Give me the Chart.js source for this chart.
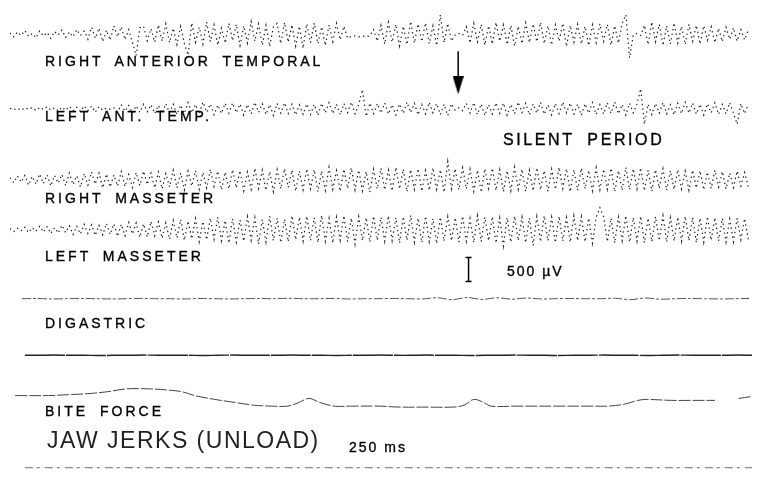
<!DOCTYPE html>
<html><head><meta charset="utf-8">
<script src="https://cdn.jsdelivr.net/npm/chart.js@4"></script>
<style>
html,body{margin:0;padding:0;background:#fff;}
#wrap{position:relative;width:762px;height:490px;overflow:hidden;background:#fff;}
#c{position:absolute;left:0;top:0;}
.lbl{position:absolute;font-family:"Liberation Sans",Arial,sans-serif;font-size:14px;letter-spacing:3px;word-spacing:5px;color:#000;white-space:nowrap;line-height:14px;-webkit-text-stroke:0.35px #000;}
.big{font-size:23px;line-height:23px;letter-spacing:1.5px;word-spacing:0;color:#222;-webkit-text-stroke:0;}
</style></head><body>
<div id="wrap"><canvas id="c" width="762" height="490"></canvas>
<div class="lbl" style="left:45px;top:54px">RIGHT ANTERIOR TEMPORAL</div>
<div class="lbl" style="left:45px;top:109px">LEFT ANT. TEMP.</div>
<div class="lbl" style="left:503px;top:132px;font-size:16px;line-height:16px;letter-spacing:2.6px;word-spacing:6px">SILENT PERIOD</div>
<div class="lbl" style="left:45px;top:191px">RIGHT MASSETER</div>
<div class="lbl" style="left:45px;top:249px">LEFT MASSETER</div>
<div class="lbl" style="left:507px;top:264px;letter-spacing:2px;word-spacing:0">500 µV</div>
<div class="lbl" style="left:45px;top:316px">DIGASTRIC</div>
<div class="lbl" style="left:45px;top:404px">BITE FORCE</div>
<div class="lbl big" style="left:47px;top:429px">JAW JERKS (UNLOAD)</div>
<div class="lbl" style="left:349px;top:440px;letter-spacing:2px;word-spacing:0">250 ms</div>
</div>
<script>
// ---- time base ----
const EMG_DT_MS = 5;          // EMG sample spacing (ms)
const SLOW_DT_MS = 20;        // digastric / reference trace sample spacing (ms)
const TOTAL_MS = 1000;

// ---- EMG traces (µV, up positive), 200 samples each ----
const rightAntTemporal = [
 20,-60,40,-30,70,-50,10,-80,60,-40,30,-90,50,-20,80,-70,40,-60,90,-30,
 60,-110,140,-90,120,-160,80,-130,170,-60,150,-120,90,-180,-450,130,160,-140,110,-170,
 190,-150,210,-180,120,-220,160,-200,-440,230,-170,140,-210,250,-160,190,-230,120,-190,220,
 -140,200,-240,170,-190,260,-150,210,-230,180,-260,150,220,-200,240,-170,190,-250,160,-300,
 210,-180,230,-200,150,-240,190,-160,220,-120,160,-90,-50,-40,-60,-45,-55,-40,90,-150,
 180,-210,240,-170,200,-250,160,-220,260,-190,210,-160,230,-200,170,-240,400,-180,220,-150,
 -20,10,-30,150,-190,220,-160,200,-230,170,-210,240,-150,190,-220,180,-250,160,-200,230,
 -180,210,-160,240,-200,170,-230,190,-150,220,-260,180,-170,200,-210,160,-240,190,-180,210,
 -150,200,-230,170,-190,220,400,-500,-20,10,-30,180,-220,250,-160,200,-240,170,-210,230,
 -190,160,-220,200,-150,180,-210,170,-130,150,-180,120,-160,140,-110,130,-150,90,-120,80
];
const leftAntTemporal = [
 10,-20,15,-30,20,-10,25,-35,30,-15,40,-25,20,-45,35,-30,50,-40,30,-55,
 60,-40,55,-70,45,-30,15,-10,20,-65,80,-50,70,-90,60,-75,95,-60,85,-100,
 70,-90,110,-80,95,-120,75,-100,130,-85,90,-110,140,-70,100,-125,80,-95,115,-90,
 120,-80,100,-130,90,-110,135,-75,105,-120,85,-140,110,-90,125,-100,95,-130,80,-115,
 100,-120,90,-135,115,-85,130,-100,95,-125,110,-80,140,-105,90,400,-160,120,-100,110,
 -90,120,-110,85,-130,100,-95,140,-80,115,-125,90,-105,135,-85,110,-120,95,-140,105,
 -30,20,-40,110,-90,130,-120,100,-140,85,-110,125,-95,120,-135,90,-105,140,-80,115,
 -125,100,-90,135,-115,80,-130,110,-100,140,-85,120,-110,95,-135,105,-90,130,-120,85,
 -110,125,-95,140,-105,90,-130,115,-85,100,420,-320,95,-120,110,-90,130,-105,85,-125,
 115,-100,135,-90,120,-110,95,-130,105,-85,125,-115,90,-105,130,-95,-320,110,-100,90
];
const rightMasseter = [
 40,-60,80,-50,90,-110,70,-90,120,-80,100,-130,90,-70,110,-120,140,-100,80,-150,
 130,-110,160,-90,140,-170,120,-150,100,-130,170,-140,110,-160,150,-120,180,-100,140,-170,
 160,-190,130,-150,200,-170,140,-210,180,-130,190,-200,150,-170,220,-140,180,-210,160,-190,
 210,-170,190,-230,160,-200,240,-180,200,-220,170,-250,210,-190,230,-160,200,-240,180,-210,
 230,-190,210,-250,180,-220,260,-200,190,-240,220,-180,250,-210,200,-230,170,-260,220,-190,
 240,-210,200,-230,260,-190,220,-250,210,-200,230,-240,190,-220,250,-200,210,-260,380,-190,
 230,-210,250,-190,220,-240,200,-260,230,-180,240,-220,210,-250,190,-230,260,-200,220,-240,
 200,-230,250,-210,190,-240,220,-200,260,-180,230,-250,210,-220,240,-190,200,-230,250,-210,
 220,-200,240,-250,190,-220,260,-210,230,-190,250,-230,200,-240,210,-180,230,-220,190,-200,
 210,-190,180,-220,200,-170,190,-210,160,-180,200,-150,170,-190,140,-160,180,-130,150,-140
];
const leftMasseter = [
 20,-40,30,-20,50,-60,40,-30,70,-50,60,-80,40,-70,90,-60,80,-100,70,-90,
 110,-80,100,-120,90,-110,130,-100,120,-140,110,-130,150,-90,140,-160,120,-150,170,-130,
 160,-180,140,-200,190,-170,210,-220,180,-190,230,-250,170,-210,240,-200,260,-230,190,-280,
 230,-260,200,-240,270,-220,250,-300,210,-260,280,-230,240,-270,220,-250,290,-210,260,-240,
 280,-230,250,-270,300,-240,230,-280,260,-220,290,-250,240,-300,270,-230,250,-260,280,-220,
 260,-240,290,-230,250,-280,270,-220,300,-260,240,-270,280,-250,230,-290,260,-240,270,-230,
 250,-260,280,-240,230,-270,290,-250,260,-230,270,-280,240,-340,250,-260,280,-230,260,-270,
 240,-330,270,-250,290,-230,260,-270,280,-240,250,-260,290,-230,270,-250,240,-280,260,460,
 270,-250,240,-280,260,-230,290,-260,250,-240,280,-270,240,-250,270,-230,290,-260,250,-240,
 260,-240,280,-230,250,-270,240,-260,270,-220,250,-240,230,-260,220,-250,240,-210,230,-200
];
// ---- slow traces (µV), 50 samples each ----
const digastric = [
 0,5,-5,0,5,0,-5,0,5,0, 0,-5,5,0,-5,0,5,0,10,0, 0,5,-5,0,0,5,0,-5,20,-20,
 25,-15,20,-10,15,-5,0,5,0,0, 10,-20,15,-10,0,5,0,-5,0,5
];
const referenceTrace = [
 0,0,5,0,0,-5,0,0,5,0, 0,0,-5,0,5,0,0,0,5,0, 0,-5,0,0,5,0,0,5,0,0,
 -5,0,0,5,0,0,-5,0,0,5, 0,0,-5,0,5,0,0,0,5,0
];
// ---- bite force (relative units, up positive) ----
const biteTimeMs = [7,52,79,105,131,157,188,210,232,249,276,302,328,354,374,387,403,417,437,459,499,525,564,597,612,625,638,648,682,735,787,806,828,846,858,892,919,950,966,982,999];
const biteForce  = [11,11,12,13,15,18,18,17,15,11,7,4,1,0,0,3,8,4,0,0,0,-1,-1,-1,1,7,4,0,0,0,0,0,2,6,7,6,6,6,null,8,10];
// ---- annotations ----
const stimulusMs = 604;        // arrow: jaw jerk (unload)
const scaleBarMs = 618;        // calibration bar
const scaleBarUV = 500;

// ---- layout (lane baselines in µV on a reversed axis, 20 µV per pixel row) ----
const Y_MAX = 9800;
const lanes = {rat:500, lat:2060, rm:3540, lm:4580, dig:6020, ref:7200, bite:8260, time:9540};
const FORCE_SCALE = 20;

// arrow head drawn as a custom point style
const head = document.createElement('canvas');
head.width = 11; head.height = 18;
(function(){ const g = head.getContext('2d'); g.fillStyle = '#000'; g.beginPath(); g.moveTo(0,0); g.lineTo(11,0); g.lineTo(5.5,18); g.closePath(); g.fill(); })();

const emgStyle = {borderColor:'rgba(0,0,0,0.88)', borderWidth:1.2, borderDash:[1.4,3.2], pointRadius:0, tension:0, fill:false};
function emg(vals, lane){ return vals.map((v,i)=>({x:i*EMG_DT_MS, y:lane - v})); }
function slow(vals, lane, t0){ return vals.map((v,i)=>({x:t0 + i*SLOW_DT_MS, y:lane - v})); }

const datasets = [
 Object.assign({data:emg(rightAntTemporal, lanes.rat)}, emgStyle),
 Object.assign({data:emg(leftAntTemporal, lanes.lat)}, emgStyle),
 Object.assign({data:emg(rightMasseter, lanes.rm)}, emgStyle),
 Object.assign({data:emg(leftMasseter, lanes.lm)}, emgStyle),
 {data:slow(digastric, lanes.dig, 16), borderColor:'#555', borderWidth:1, borderDash:[9,2,3,2], pointRadius:0, tension:0.3},
 {data:slow(referenceTrace, lanes.ref, 20), borderColor:'#222', borderWidth:1.4, borderDash:[40,1], pointRadius:0, tension:0.3},
 {data:biteTimeMs.map((t,i)=>({x:t, y: biteForce[i]===null?null:lanes.bite - biteForce[i]*FORCE_SCALE})), borderColor:'#444', borderWidth:1, borderDash:[12,2], pointRadius:0, tension:0.35, spanGaps:false},
 {data:[{x:20,y:lanes.time},{x:TOTAL_MS,y:lanes.time}], borderColor:'#888', borderWidth:1.2, borderDash:[8,4,3,5], pointRadius:0},
 // arrow shaft + head
 {data:[{x:stimulusMs,y:860},{x:stimulusMs,y:1440}], borderColor:'#000', borderWidth:1.5, pointRadius:0},
 {data:[{x:stimulusMs,y:1570}], showLine:false, pointStyle:head, pointRadius:9},
 // calibration bar
 {data:[{x:scaleBarMs,y:5160},{x:scaleBarMs,y:5160+scaleBarUV}], borderColor:'#000', borderWidth:1.5, pointStyle:'line', pointRadius:3, pointBorderColor:'#000', pointBorderWidth:1.5}
];

new Chart(document.getElementById('c'), {
 type:'line',
 data:{datasets},
 options:{
  responsive:false, animation:false, events:[],
  layout:{padding:0},
  plugins:{legend:{display:false}, tooltip:{enabled:false}},
  scales:{
   x:{type:'linear', min:0, max:TOTAL_MS, display:false},
   y:{type:'linear', min:0, max:Y_MAX, reverse:true, display:false}
  }
 }
});
</script>
</body></html>
